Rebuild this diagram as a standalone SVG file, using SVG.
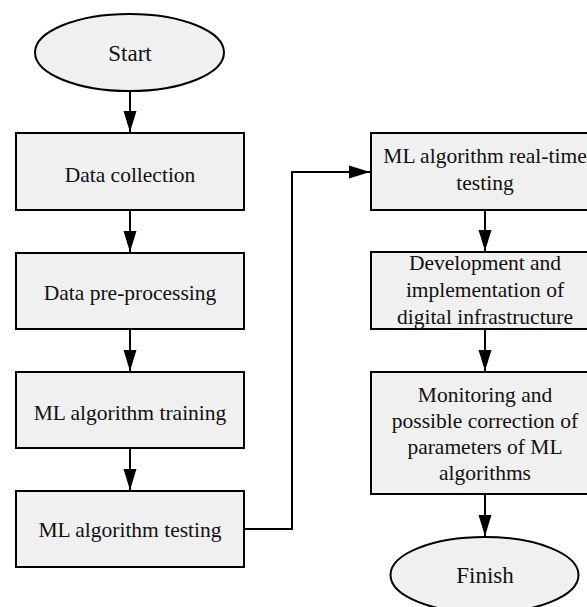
<svg xmlns="http://www.w3.org/2000/svg" width="587" height="607" viewBox="0 0 587 607">
  <style>
    .shape { fill: #f0f0f0; stroke: #000; stroke-width: 2; }
    .label { font-family: 'Liberation Serif', serif; font-size: 21.5px; fill: #111; text-anchor: middle; }
    .term { font-family: 'Liberation Serif', serif; font-size: 23px; fill: #111; text-anchor: middle; }
    .edge { fill: none; stroke: #000; stroke-width: 2; }
  </style>
  <defs>
    <marker id="arrow" markerUnits="userSpaceOnUse" markerWidth="22" markerHeight="14" viewBox="0 0 22 14" refX="21" refY="7" orient="auto">
      <path d="M0,0.5 L21,7 L0,13.5 Z" fill="#000"/>
    </marker>
  </defs>
  <rect width="587" height="607" fill="#fff"/>

  <g id="connectors">
    <path class="edge" d="M130,91 V132" marker-end="url(#arrow)"/>
    <path class="edge" d="M130,210 V252" marker-end="url(#arrow)"/>
    <path class="edge" d="M130,329 V371" marker-end="url(#arrow)"/>
    <path class="edge" d="M130,448 V490" marker-end="url(#arrow)"/>
    <path class="edge" d="M244,529 H292 V172 H370" marker-end="url(#arrow)"/>
    <path class="edge" d="M485,210 V251" marker-end="url(#arrow)"/>
    <path class="edge" d="M485,329 V371" marker-end="url(#arrow)"/>
    <path class="edge" d="M485,494 V536" marker-end="url(#arrow)"/>
  </g>

  <g id="start">
    <ellipse class="shape" cx="129.5" cy="52.5" rx="94.5" ry="38.5"/>
    <text class="term" x="130" y="61">Start</text>
  </g>
  <g id="data-collection">
    <rect class="shape" x="16" y="133" width="228" height="77"/>
    <text class="label" x="130" y="181.5">Data collection</text>
  </g>
  <g id="data-preprocessing">
    <rect class="shape" x="16" y="253" width="228" height="76"/>
    <text class="label" x="130" y="299.5">Data pre-processing</text>
  </g>
  <g id="ml-training">
    <rect class="shape" x="16" y="372" width="228" height="76"/>
    <text class="label" x="130" y="419.5">ML algorithm training</text>
  </g>
  <g id="ml-testing">
    <rect class="shape" x="16" y="491" width="228" height="76"/>
    <text class="label" x="130" y="537">ML algorithm testing</text>
  </g>
  <g id="ml-realtime-testing">
    <rect class="shape" x="371" y="133" width="228" height="77"/>
    <text class="label" x="485" y="163">ML algorithm real-time</text>
    <text class="label" x="485" y="190">testing</text>
  </g>
  <g id="digital-infrastructure">
    <rect class="shape" x="371" y="252" width="228" height="77"/>
    <text class="label" x="485" y="270">Development and</text>
    <text class="label" x="485" y="297">implementation of</text>
    <text class="label" x="485" y="324">digital infrastructure</text>
  </g>
  <g id="monitoring">
    <rect class="shape" x="371" y="372" width="228" height="122"/>
    <text class="label" x="485" y="402">Monitoring and</text>
    <text class="label" x="485" y="428">possible correction of</text>
    <text class="label" x="485" y="454">parameters of ML</text>
    <text class="label" x="485" y="480">algorithms</text>
  </g>
  <g id="finish">
    <ellipse class="shape" cx="484.5" cy="575" rx="94" ry="38"/>
    <text class="term" x="485" y="583">Finish</text>
  </g>
</svg>
